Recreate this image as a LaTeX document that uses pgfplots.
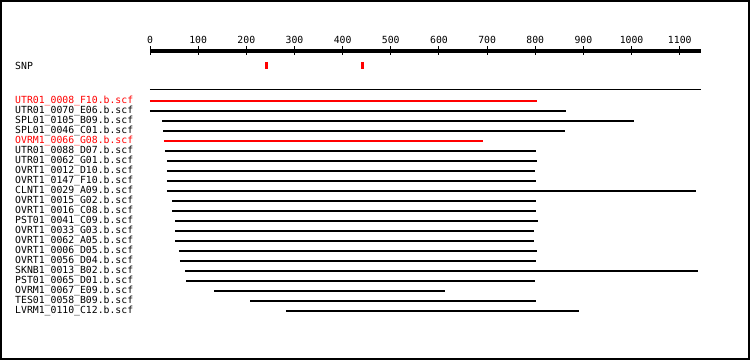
\documentclass[border=0pt]{standalone}
\usepackage{fontspec}
\setmainfont{DejaVu Sans Mono}
\usepackage{pgfplots}
\pgfplotsset{compat=1.18}
\definecolor{snpred}{RGB}{255,0,0}
\newcommand{\lbl}{\fontsize{9.8bp}{10bp}\selectfont}
\begin{document}
\begin{tikzpicture}
\begin{axis}[
  scale only axis,
  width=551bp, height=309bp,
  xmin=0, xmax=1144,
  ymin=-360, ymax=-51,
  clip=false,
  axis x line*=top,
  axis y line=none,
  axis line style={line width=4bp,-},
  xtick={0,100,...,1100},
  xtick align=center,
  major tick length=9bp,
  tick style={line width=1bp,black},
  xticklabel style={font=\lbl, yshift=-0.5bp},
  /pgf/number format/1000 sep={},
  /pgf/number format/assume math mode=true,
  ytick=\empty,
]
% frame
\draw[line width=2bp] (axis cs:-309.4,-1) rectangle (axis cs:1243.8,-359);
% SNP label and markers
\node[anchor=base west, font=\lbl, inner sep=0pt] at (axis cs:-280.3,-69.3) {SNP};
\addplot[snpred, line width=3bp, forget plot] coordinates {(242.3,-62) (242.3,-69)};
\addplot[snpred, line width=3bp, forget plot] coordinates {(441.2,-62) (441.2,-69)};
% thin separator
\addplot[black, line width=1bp] coordinates {(0,-90) (1144,-90)};
% reads
\addplot[snpred, line width=2bp] coordinates {(0,-101) (804,-101)};
\addplot[black, line width=2bp] coordinates {(0,-111) (864,-111)};
\addplot[black, line width=2bp] coordinates {(25,-121) (1005,-121)};
\addplot[black, line width=2bp] coordinates {(27,-131) (862,-131)};
\addplot[snpred, line width=2bp] coordinates {(29,-141) (692,-141)};
\addplot[black, line width=2bp] coordinates {(31,-151) (802,-151)};
\addplot[black, line width=2bp] coordinates {(35,-161) (804,-161)};
\addplot[black, line width=2bp] coordinates {(35,-171) (800,-171)};
\addplot[black, line width=2bp] coordinates {(35,-181) (802,-181)};
\addplot[black, line width=2bp] coordinates {(35,-191) (1134,-191)};
\addplot[black, line width=2bp] coordinates {(46,-201) (802,-201)};
\addplot[black, line width=2bp] coordinates {(46,-211) (802,-211)};
\addplot[black, line width=2bp] coordinates {(52,-221) (806,-221)};
\addplot[black, line width=2bp] coordinates {(52,-231) (797,-231)};
\addplot[black, line width=2bp] coordinates {(52,-241) (797,-241)};
\addplot[black, line width=2bp] coordinates {(60,-251) (804,-251)};
\addplot[black, line width=2bp] coordinates {(62,-261) (802,-261)};
\addplot[black, line width=2bp] coordinates {(73,-271) (1138,-271)};
\addplot[black, line width=2bp] coordinates {(75,-281) (800,-281)};
\addplot[black, line width=2bp] coordinates {(133,-291) (613,-291)};
\addplot[black, line width=2bp] coordinates {(208,-301) (802,-301)};
\addplot[black, line width=2bp] coordinates {(282,-311) (891,-311)};
% labels
\begin{scope}[every node/.style={anchor=base west, font=\lbl, inner sep=0pt}]
\node[text=snpred] at (axis cs:-280.3,-103.5) {UTR01\_0008\_F10.b.scf};
\node at (axis cs:-280.3,-113.5) {UTR01\_0070\_E06.b.scf};
\node at (axis cs:-280.3,-123.5) {SPL01\_0105\_B09.b.scf};
\node at (axis cs:-280.3,-133.5) {SPL01\_0046\_C01.b.scf};
\node[text=snpred] at (axis cs:-280.3,-143.5) {OVRM1\_0066\_G08.b.scf};
\node at (axis cs:-280.3,-153.5) {UTR01\_0088\_D07.b.scf};
\node at (axis cs:-280.3,-163.5) {UTR01\_0062\_G01.b.scf};
\node at (axis cs:-280.3,-173.5) {OVRT1\_0012\_D10.b.scf};
\node at (axis cs:-280.3,-183.5) {OVRT1\_0147\_F10.b.scf};
\node at (axis cs:-280.3,-193.5) {CLNT1\_0029\_A09.b.scf};
\node at (axis cs:-280.3,-203.5) {OVRT1\_0015\_G02.b.scf};
\node at (axis cs:-280.3,-213.5) {OVRT1\_0016\_C08.b.scf};
\node at (axis cs:-280.3,-223.5) {PST01\_0041\_C09.b.scf};
\node at (axis cs:-280.3,-233.5) {OVRT1\_0033\_G03.b.scf};
\node at (axis cs:-280.3,-243.5) {OVRT1\_0062\_A05.b.scf};
\node at (axis cs:-280.3,-253.5) {OVRT1\_0006\_D05.b.scf};
\node at (axis cs:-280.3,-263.5) {OVRT1\_0056\_D04.b.scf};
\node at (axis cs:-280.3,-273.5) {SKNB1\_0013\_B02.b.scf};
\node at (axis cs:-280.3,-283.5) {PST01\_0065\_D01.b.scf};
\node at (axis cs:-280.3,-293.5) {OVRM1\_0067\_E09.b.scf};
\node at (axis cs:-280.3,-303.5) {TES01\_0058\_B09.b.scf};
\node at (axis cs:-280.3,-313.5) {LVRM1\_0110\_C12.b.scf};
\end{scope}
\end{axis}
\end{tikzpicture}
\end{document}
